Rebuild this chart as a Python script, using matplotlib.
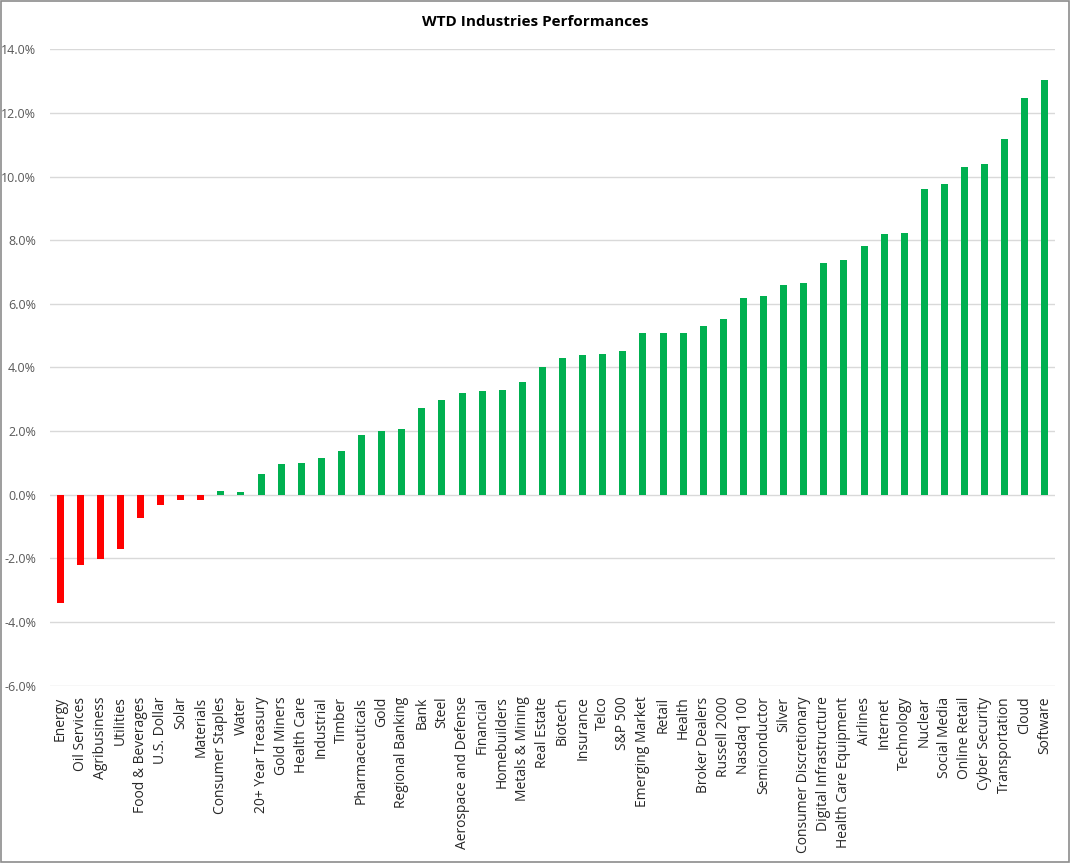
import matplotlib.pyplot as plt
from matplotlib.patches import Rectangle
from matplotlib.ticker import FuncFormatter

industries = [
    "Energy", "Oil Services", "Agribusiness", "Utilities", "Food & Beverages",
    "U.S. Dollar", "Solar", "Materials", "Consumer Staples", "Water",
    "20+ Year Treasury", "Gold Miners", "Health Care", "Industrial", "Timber",
    "Pharmaceuticals", "Gold", "Regional Banking", "Bank", "Steel",
    "Aerospace and Defense", "Financial", "Homebuilders", "Metals & Mining",
    "Real Estate", "Biotech", "Insurance", "Telco", "S&P 500",
    "Emerging Market", "Retail", "Health", "Broker Dealers", "Russell 2000",
    "Nasdaq 100", "Semiconductor", "Silver", "Consumer Discretionary",
    "Digital Infrastructure", "Health Care Equipment", "Airlines", "Internet",
    "Technology", "Nuclear", "Social Media", "Online Retail", "Cyber Security",
    "Transportation", "Cloud", "Software",
]

# rendement en %
performance = [
    -3.39, -2.22, -2.03, -1.71, -0.74,
    -0.31, -0.18, -0.16, 0.11, 0.10,
    0.66, 0.96, 0.99, 1.16, 1.38,
    1.88, 2.00, 2.07, 2.73, 2.98,
    3.20, 3.27, 3.28, 3.55,
    4.00, 4.30, 4.40, 4.42, 4.52,
    5.08, 5.08, 5.10, 5.32, 5.53,
    6.18, 6.24, 6.58, 6.67,
    7.30, 7.37, 7.83, 8.20,
    8.22, 9.62, 9.78, 10.30, 10.41,
    11.20, 12.49, 13.03,
]

RED = "#ff0000"
GREEN = "#00b050"
GRID = "#d9d9d9"
TEXT = "#595959"

plt.rcParams["font.family"] = ["Open Sans", "DejaVu Sans"]

fig = plt.figure(figsize=(10.7, 8.63), dpi=100)
ax = fig.add_axes([50 / 1070, 1 - 685.5 / 863, 1005 / 1070, 636 / 863])

colors = [RED if v < 0 else GREEN for v in performance]
x = range(len(industries))
ax.bar(x, performance, width=0.35, color=colors, edgecolor="none", zorder=3)

ax.set_xlim(-0.5, len(industries) - 0.5)
ax.set_ylim(-6, 14)
ax.set_yticks(range(-6, 15, 2))
ax.yaxis.set_major_formatter(FuncFormatter(lambda v, _: f"{v:.1f}%"))
ax.tick_params(axis="y", length=0, pad=10, labelsize=9, labelcolor=TEXT)

ax.set_xticks(list(x))
ax.set_xticklabels(industries, rotation=90, fontsize=10, color="#262626")
ax.tick_params(axis="x", length=0, pad=8)

ax.yaxis.grid(True, color=GRID, linewidth=1)
ax.set_axisbelow(True)
for spine in ax.spines.values():
    spine.set_visible(False)

fig.text(0.5, 1 - 22 / 863, "WTD Industries Performances", ha="center",
         va="center", fontsize=11, fontweight="bold", color="#000000")

# cadre gris autour du graphique
fig.patches.append(Rectangle((0.001, 0.001), 0.998, 0.998, transform=fig.transFigure,
                             fill=False, edgecolor="#8c8c8c", linewidth=1.2))

fig.savefig("out.png", dpi=100)
